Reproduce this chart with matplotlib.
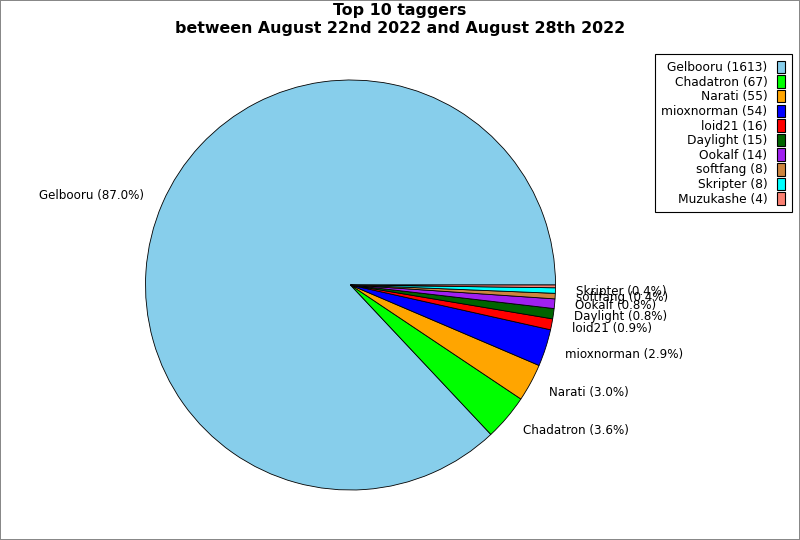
import matplotlib
matplotlib.use("Agg")
import matplotlib.pyplot as plt
from matplotlib.patches import Patch

names = ["Gelbooru", "Chadatron", "Narati", "mioxnorman", "loid21",
         "Daylight", "Ookalf", "softfang", "Skripter", "Muzukashe"]
counts = [1613, 67, 55, 54, 16, 15, 14, 8, 8, 4]
colors = ["skyblue", "#00ff00", "orange", "blue", "red",
          "darkgreen", "#a020f0", "peru", "cyan", "salmon"]

total = sum(counts)
pct = [c / total * 100 for c in counts]
labels = [f"{n} ({p:.1f}%)" if p >= 0.3 else "" for n, p in zip(names, pct)]

fig = plt.figure(figsize=(8, 5.4), dpi=100)
fig.patch.set_edgecolor("#888888")
fig.patch.set_linewidth(1.2)

ax = fig.add_axes([145.5 / 800, 50 / 540, 410 / 800, 410 / 540])
wedges, texts = ax.pie(counts, labels=labels, colors=colors, startangle=0,
                       counterclock=True, labeldistance=1.1,
                       wedgeprops=dict(edgecolor="black", linewidth=0.6),
                       textprops=dict(fontsize=8.6))
ax.set_xlim(-1, 1)
ax.set_ylim(-1, 1)
ax.set_aspect("equal")
ax.axis("off")
for t in texts:
    t.set_clip_on(False)

fig.text(0.5, 1 - 11 / 540, "Top 10 taggers", ha="center", va="center",
         fontsize=11.4, fontweight="bold")
fig.text(0.5, 1 - 29 / 540, "between August 22nd 2022 and August 28th 2022",
         ha="center", va="center", fontsize=11.4, fontweight="bold")

handles = [Patch(facecolor=c, edgecolor="black", linewidth=0.8) for c in colors]
leg_labels = [f"{n} ({c})" for n, c in zip(names, counts)]
leg = fig.legend(handles, leg_labels, loc="upper right",
                 bbox_to_anchor=(792 / 800, 1 - 54 / 540), markerfirst=False,
                 fontsize=8.8, fancybox=False, edgecolor="black",
                 handlelength=0.65, handleheight=1.2, handletextpad=0.8,
                 labelspacing=0.1, borderpad=0.55, borderaxespad=0.0,
                 framealpha=1)
leg.get_frame().set_linewidth(0.8)

fig.savefig("out.png", dpi=100)
